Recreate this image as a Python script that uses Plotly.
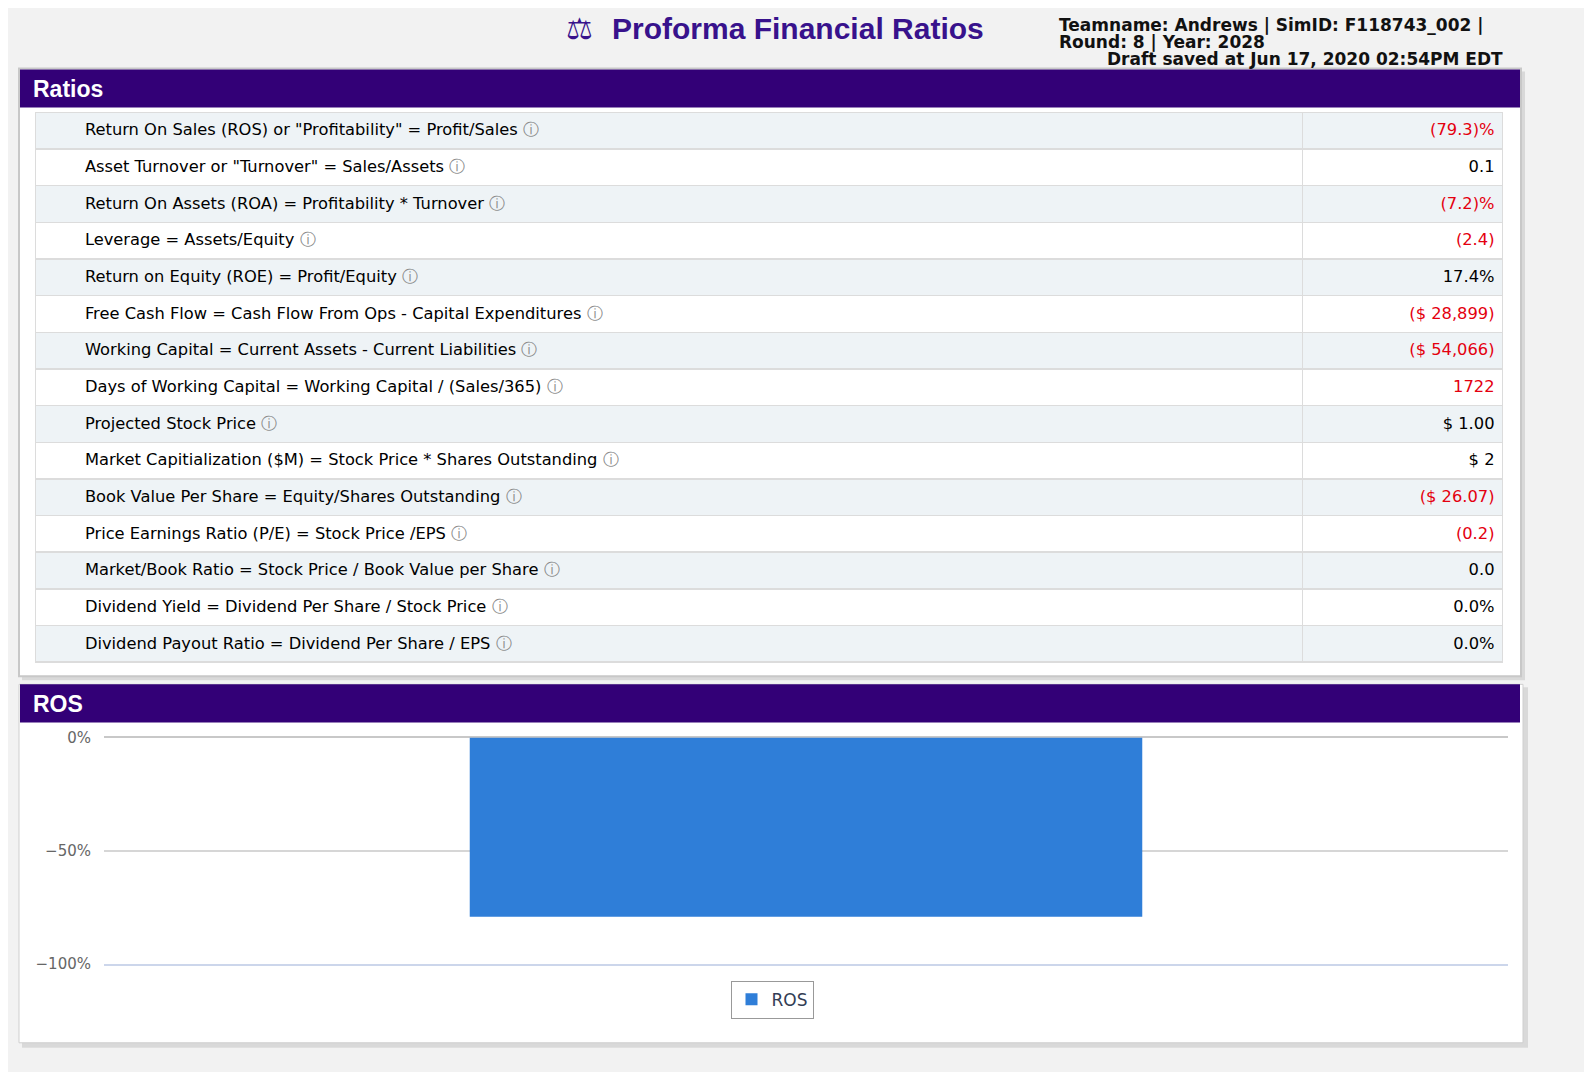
import plotly.graph_objects as go

# the page puts the plot div 8px in from the left and ~17.5px down, and the
# picture comes out slightly squeezed vertically; positions below are given in
# picture pixels and mapped through these numbers
LEFT, TOP, VS = 8, 17.5, 0.982
W, H = 1584, 1075

def px(x):
    return (x - LEFT) / W

def py(y):
    return 1 - ((y - TOP) / VS) / H

# ---- data ----
ratio_labels = [
    'Return On Sales (ROS) or "Profitability" = Profit/Sales',
    'Asset Turnover or "Turnover" = Sales/Assets',
    'Return On Assets (ROA) = Profitability * Turnover',
    'Leverage = Assets/Equity',
    'Return on Equity (ROE) = Profit/Equity',
    'Free Cash Flow = Cash Flow From Ops - Capital Expenditures',
    'Working Capital = Current Assets - Current Liabilities',
    'Days of Working Capital = Working Capital / (Sales/365)',
    'Projected Stock Price',
    'Market Capitialization ($M) = Stock Price * Shares Outstanding',
    'Book Value Per Share = Equity/Shares Outstanding',
    'Price Earnings Ratio (P/E) = Stock Price /EPS',
    'Market/Book Ratio = Stock Price / Book Value per Share',
    'Dividend Yield = Dividend Per Share / Stock Price',
    'Dividend Payout Ratio = Dividend Per Share / EPS',
]
ratio_values = ['(79.3)%', '0.1', '(7.2)%', '(2.4)', '17.4%', '($ 28,899)',
                '($ 54,066)', '1722', '$ 1.00', '$ 2', '($ 26.07)', '(0.2)',
                '0.0', '0.0%', '0.0%']
value_is_red = [True, False, True, True, False, True, True, True, False,
                False, True, True, False, False, False]

ros_category = ['ROS']
ros_values = [-79.3]
ros_tickvals = [-100, -50, 0]
ros_ticktext = ['\u2212100%', '\u221250%', '0%']

PURPLE = '#330077'
TITLE_PURPLE = '#38128c'
RED = '#e4000f'
SHADE = '#eef3f6'
FONT = 'Liberation Sans, Arial, sans-serif'
TFONT = 'DejaVu Sans, sans-serif'
CELL_SIZE = 16.3

# ---- table cells ----
row_fills = [SHADE if i % 2 == 0 else '#ffffff' for i in range(len(ratio_labels))]
pad = '\u00a0' * 8
icon = ' <span style="color:#888888;font-size:15.5px">\u24d8</span>'
label_cells = [pad + lab + icon for lab in ratio_labels]
# an invisible copy of the icon keeps the value on the same baseline as the label
# (newline inside the tag so the table's word wrapping does not split it)
value_cells = ['<span\nstyle="color:%s;font-size:15.5px">\u24d8</span>%s' % (f, v)
               for f, v in zip(row_fills, ratio_values)]
value_colors = [RED if r else '#000000' for r in value_is_red]

row_h = 36 / VS
table = go.Table(
    domain=dict(x=[px(35.5), px(1503)], y=[py(665), py(112.7)]),
    columnwidth=[1303 - 35.5, 1503 - 1303],
    header=dict(
        values=[label_cells[0], value_cells[0]],
        align=['left', 'right'],
        height=row_h,
        fill_color=row_fills[0],
        line=dict(color='#dcdcdc', width=1.5),
        font=dict(family=TFONT, size=CELL_SIZE, color=['#000000', value_colors[0]]),
    ),
    cells=dict(
        values=[label_cells[1:], value_cells[1:]],
        align=['left', 'right'],
        height=row_h,
        fill_color=[row_fills[1:], row_fills[1:]],
        line=dict(color='#dcdcdc', width=1.5),
        font=dict(family=TFONT, size=CELL_SIZE,
                  color=[['#000000'] * (len(ratio_labels) - 1), value_colors[1:]]),
    ),
)

bar = go.Bar(
    x=ros_category, y=ros_values, name='ROS',
    marker=dict(color='#2f7ed8', line=dict(width=0)),
    xaxis='x', yaxis='y', showlegend=True,
)

fig = go.Figure(data=[table, bar])

# ---- panels ----
def rect(x0, y0, x1, y1, fill, line_color=None, line_width=0):
    return dict(type='rect', xref='paper', yref='paper', layer='below',
                x0=px(x0), x1=px(x1), y0=py(y1), y1=py(y0),
                fillcolor=fill,
                line=dict(color=line_color or fill, width=line_width))

shapes = [
    rect(22, 72, 1525, 680, 'rgba(0,0,0,0.10)'),
    rect(19, 69, 1521, 676, '#ffffff', '#c8c8c8', 2),
    rect(20, 70, 1520, 108, PURPLE),
    rect(22, 687, 1528, 1047, 'rgba(0,0,0,0.10)'),
    rect(19, 684, 1523, 1042, '#ffffff', '#cfcfcf', 1),
    rect(20, 684, 1520, 722, PURPLE),
]

annotations = [
    dict(text='<b>Ratios</b>', x=px(31), y=py(89), xanchor='left', yanchor='middle',
         font=dict(family=FONT, size=23, color='white')),
    dict(text='<b>ROS</b>', x=px(31), y=py(704), xanchor='left', yanchor='middle',
         font=dict(family=FONT, size=23, color='white')),
    dict(text='\u2696', x=px(579), y=py(29), xanchor='center', yanchor='middle',
         font=dict(family='DejaVu Sans', size=30, color=TITLE_PURPLE)),
    dict(text='<b>Proforma Financial Ratios</b>', x=px(610), y=py(29),
         xanchor='left', yanchor='middle',
         font=dict(family=FONT, size=30, color=TITLE_PURPLE)),
    dict(text='<b>Teamname: Andrews | SimID: F118743_002 |</b>', x=px(1057), y=py(25),
         xanchor='left', yanchor='middle', font=dict(family=TFONT, size=17, color='#111111')),
    dict(text='<b>Round: 8 | Year: 2028</b>', x=px(1057), y=py(42.5),
         xanchor='left', yanchor='middle', font=dict(family=TFONT, size=17, color='#111111')),
    dict(text='<b>Draft saved at Jun 17, 2020 02:54PM EDT</b>', x=px(1505), y=py(59.5),
         xanchor='right', yanchor='middle', font=dict(family=TFONT, size=17, color='#111111')),
]
for a in annotations:
    a.update(xref='paper', yref='paper', showarrow=False)

fig.update_layout(
    width=W, height=H,
    margin=dict(l=0, r=0, t=0, b=0),
    paper_bgcolor='#f2f2f2',
    plot_bgcolor='rgba(0,0,0,0)',
    shapes=shapes,
    annotations=annotations,
    bargap=0.521,
    xaxis=dict(domain=[px(104), px(1508)], showticklabels=False, showgrid=False,
               zeroline=False, showline=True, linecolor='#ccd6eb', linewidth=2,
               anchor='y', fixedrange=True),
    yaxis=dict(domain=[py(963), py(737)], range=[-100, 0],
               tickmode='array', tickvals=ros_tickvals, ticktext=ros_ticktext,
               showgrid=True, gridcolor='#d6d6d6', gridwidth=1.5,
               zeroline=True, zerolinecolor='#c8c8c8', zerolinewidth=2,
               ticks='', ticklabelstandoff=12, anchor='x', fixedrange=True,
               tickfont=dict(family='DejaVu Sans', size=15, color='#666666')),
    legend=dict(x=px(772), y=py(999), xanchor='center', yanchor='middle',
                bgcolor='white', bordercolor='#999999', borderwidth=1,
                font=dict(family=TFONT, size=17, color='#333d55')),
    showlegend=True,
)

fig.write_html("out.html")
